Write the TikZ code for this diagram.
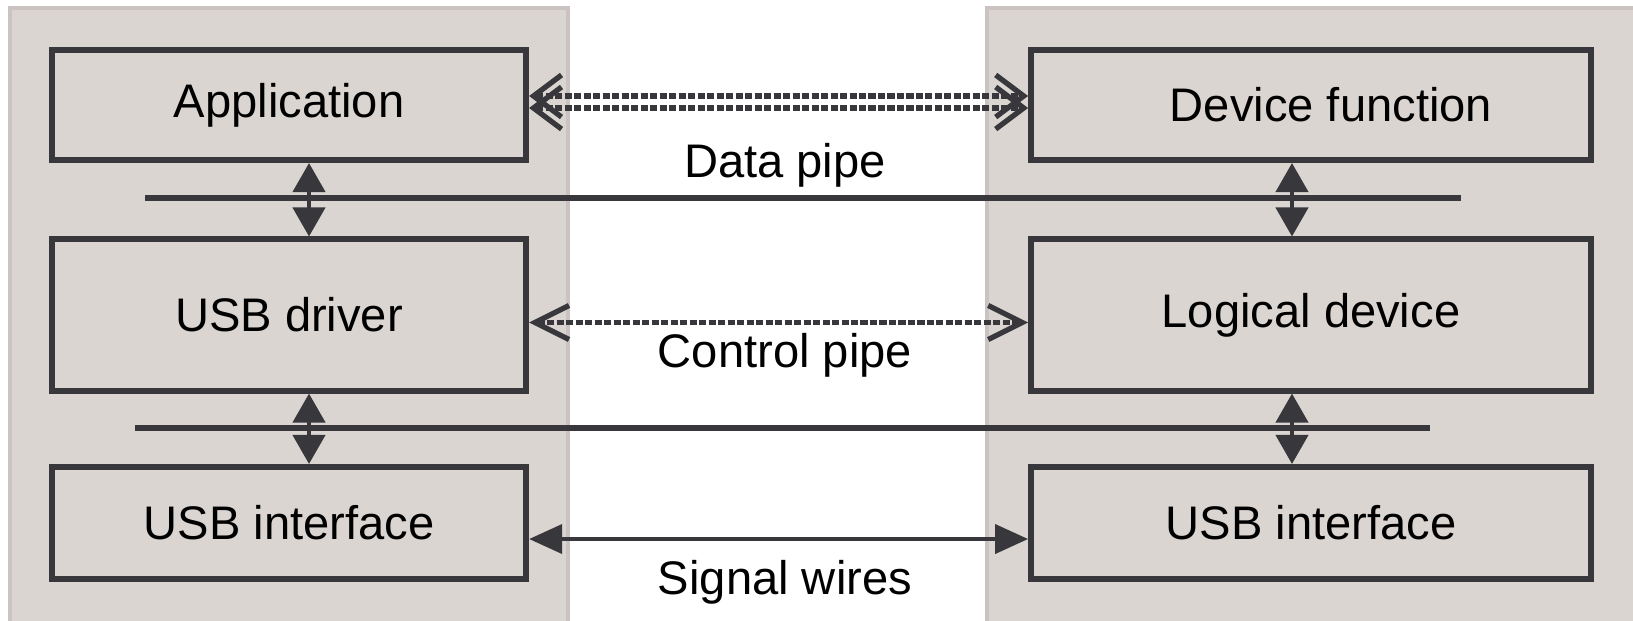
\documentclass[tikz,border=0pt]{standalone}
\usepackage{fontspec}
\setmainfont{Liberation Sans}
\usepackage{xcolor}
\usetikzlibrary{arrows.meta,positioning,calc}

\definecolor{panelfill}{RGB}{218,213,209}
\definecolor{panelline}{RGB}{203,195,193}
\definecolor{ink}{RGB}{56,55,60}

\begin{document}
\begin{tikzpicture}[
  x=0.01cm, y=-0.01cm,
  font=\fontsize{13.4}{16}\selectfont,
  panel/.style={fill=panelfill, draw=panelline, line width=0.9pt},
  block/.style={draw=ink, line width=1.7pt, fill=panelfill, minimum width=4.74cm, align=center, inner sep=0pt},
  wideblock/.style={block, minimum width=5.595cm},
  bus/.style={draw=ink, line width=1.7pt},
  updown/.style={{Triangle[length=0.29cm,width=0.32cm]}-{Triangle[length=0.29cm,width=0.32cm]}, draw=ink, line width=1.2pt},
  pipe/.style={{Straight Barb[length=0.28cm,width=0.42cm]}-{Straight Barb[length=0.28cm,width=0.42cm]}, draw=ink, line width=1.5pt, dash pattern=on 2pt off 0.7pt},
  wire/.style={{Triangle[length=0.33cm,width=0.29cm]}-{Triangle[length=0.33cm,width=0.29cm]}, draw=ink, line width=1.1pt},
  lbl/.style={inner sep=0pt}
]
\useasboundingbox (0,0) rectangle (1633,620);
\clip (0,0) rectangle (1633,620);
\fill[white] (0,0) rectangle (1633,620);

% host side and device side
\path[panel] (10,8) rectangle (568,640);
\path[panel] (987,8) rectangle (1650,640);

% host stack
\node[block, minimum height=1.1cm] (app) at (289,105) {Application};
\node[block, minimum height=1.51cm] (drv) at (289,315) {USB driver};
\node[block, minimum height=1.12cm] (ifL) at (289,523) {USB interface};

% device stack
\node[wideblock, minimum height=1.1cm] (devfn) at (1311,105) {\hspace*{0.4cm}Device function};
\node[wideblock, minimum height=1.51cm] (logdev) at (1311,315) {Logical device};
\node[wideblock, minimum height=1.12cm] (ifR) at (1311,523) {USB interface};

% layer lines
\coordinate (busAL) at (145,198);
\coordinate (busAR) at (1461,198);
\coordinate (busBL) at (135,428);
\coordinate (busBR) at (1430,428);
\draw[bus] (busAL) -- (busAR);
\draw[bus] (busBL) -- (busBR);

\draw[updown] ([xshift=0.2cm]app.south) -- ([xshift=0.2cm]drv.north);
\draw[updown] ([xshift=0.2cm]drv.south) -- ([xshift=0.2cm]ifL.north);
\draw[updown] ([xshift=-0.19cm]devfn.south) -- ([xshift=-0.19cm]logdev.north);
\draw[updown] ([xshift=-0.19cm]logdev.south) -- ([xshift=-0.19cm]ifR.north);

% pipes
\draw[pipe] ([yshift=0.09cm]app.east) -- ([yshift=0.09cm]devfn.west);
\draw[pipe] ([yshift=-0.03cm]app.east) -- ([yshift=-0.03cm]devfn.west);
\draw[pipe, {Straight Barb[length=0.34cm,width=0.34cm]}-{Straight Barb[length=0.34cm,width=0.34cm]}] ([yshift=-0.075cm]drv.east) -- ([yshift=-0.075cm]logdev.west);
\draw[wire] ([yshift=-0.16cm]ifL.east) -- ([yshift=-0.16cm]ifR.west);

\node[lbl] (datalbl) at (785,165) {Data pipe};
\node[lbl] (ctrllbl) at (785,355) {Control pipe};
\node[lbl] (siglbl) at (785,582) {Signal wires};
\end{tikzpicture}
\end{document}
